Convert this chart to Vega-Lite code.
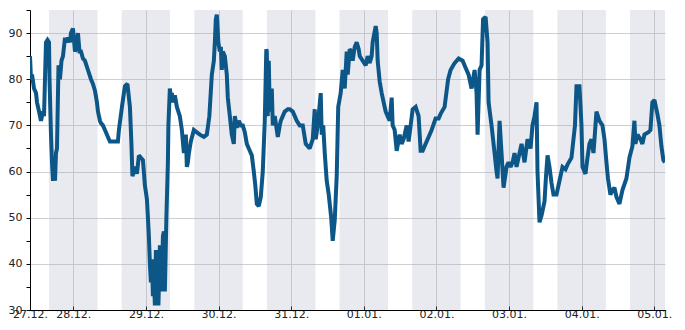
{
  "$schema": "https://vega.github.io/schema/vega-lite/v6.json",
  "width": 635,
  "height": 300,
  "autosize": {"type": "none"},
  "padding": {"left": 30, "top": 10, "right": 20, "bottom": 20},
  "background": "white",
  "config": {
    "view": {"stroke": null},
    "font": "DejaVu Sans",
    "axis": {"labelFont": "DejaVu Sans", "labelFontSize": 11, "labelColor": "#222", "domainColor": "#000", "tickColor": "#000", "gridColor": "#cfcfd2", "gridWidth": 1, "title": null}
  },
  "datasets": {
    "bands": [
      {"start": "2023-12-27T16:00", "end": "2023-12-28T08:00"},
      {"start": "2023-12-28T16:00", "end": "2023-12-29T08:00"},
      {"start": "2023-12-29T16:00", "end": "2023-12-30T08:00"},
      {"start": "2023-12-30T16:00", "end": "2023-12-31T08:00"},
      {"start": "2023-12-31T16:00", "end": "2024-01-01T08:00"},
      {"start": "2024-01-01T16:00", "end": "2024-01-02T08:00"},
      {"start": "2024-01-02T16:00", "end": "2024-01-03T08:00"},
      {"start": "2024-01-03T16:00", "end": "2024-01-04T08:00"},
      {"start": "2024-01-04T16:00", "end": "2024-01-05T08:00"}
    ],
    "series": [
      {"t": "2023-12-27T09:42", "v": 85},
      {"t": "2023-12-27T10:02", "v": 80},
      {"t": "2023-12-27T10:22", "v": 81},
      {"t": "2023-12-27T11:02", "v": 78},
      {"t": "2023-12-27T11:41", "v": 77},
      {"t": "2023-12-27T12:01", "v": 75},
      {"t": "2023-12-27T12:41", "v": 73},
      {"t": "2023-12-27T13:20", "v": 71},
      {"t": "2023-12-27T14:00", "v": 73},
      {"t": "2023-12-27T14:20", "v": 72},
      {"t": "2023-12-27T14:39", "v": 80},
      {"t": "2023-12-27T14:59", "v": 88},
      {"t": "2023-12-27T15:29", "v": 88.5},
      {"t": "2023-12-27T15:59", "v": 88},
      {"t": "2023-12-27T16:09", "v": 80},
      {"t": "2023-12-27T16:38", "v": 68},
      {"t": "2023-12-27T16:58", "v": 62},
      {"t": "2023-12-27T17:18", "v": 58},
      {"t": "2023-12-27T17:38", "v": 62},
      {"t": "2023-12-27T17:58", "v": 58},
      {"t": "2023-12-27T18:17", "v": 64},
      {"t": "2023-12-27T18:37", "v": 65},
      {"t": "2023-12-27T19:07", "v": 83},
      {"t": "2023-12-27T19:36", "v": 80},
      {"t": "2023-12-27T20:06", "v": 84},
      {"t": "2023-12-27T20:36", "v": 85},
      {"t": "2023-12-27T21:16", "v": 89},
      {"t": "2023-12-27T21:35", "v": 88},
      {"t": "2023-12-27T22:15", "v": 89},
      {"t": "2023-12-27T22:55", "v": 88},
      {"t": "2023-12-27T23:14", "v": 90},
      {"t": "2023-12-27T23:54", "v": 91},
      {"t": "2023-12-28T00:34", "v": 86},
      {"t": "2023-12-28T01:03", "v": 87},
      {"t": "2023-12-28T01:33", "v": 90},
      {"t": "2023-12-28T02:03", "v": 86},
      {"t": "2023-12-28T02:33", "v": 86},
      {"t": "2023-12-28T03:12", "v": 84.5},
      {"t": "2023-12-28T03:52", "v": 84},
      {"t": "2023-12-28T04:51", "v": 82},
      {"t": "2023-12-28T05:51", "v": 80},
      {"t": "2023-12-28T06:30", "v": 79},
      {"t": "2023-12-28T07:10", "v": 77.5},
      {"t": "2023-12-28T07:49", "v": 75},
      {"t": "2023-12-28T08:09", "v": 73},
      {"t": "2023-12-28T08:49", "v": 71},
      {"t": "2023-12-28T09:09", "v": 70.5},
      {"t": "2023-12-28T09:48", "v": 70},
      {"t": "2023-12-28T10:28", "v": 69},
      {"t": "2023-12-28T11:27", "v": 67.5},
      {"t": "2023-12-28T12:07", "v": 66.5},
      {"t": "2023-12-28T13:26", "v": 66.5},
      {"t": "2023-12-28T14:45", "v": 66.5},
      {"t": "2023-12-28T15:05", "v": 69},
      {"t": "2023-12-28T16:05", "v": 74},
      {"t": "2023-12-28T17:04", "v": 78.5},
      {"t": "2023-12-28T17:54", "v": 79},
      {"t": "2023-12-28T18:43", "v": 74},
      {"t": "2023-12-28T19:13", "v": 66},
      {"t": "2023-12-28T19:33", "v": 59},
      {"t": "2023-12-28T20:02", "v": 60},
      {"t": "2023-12-28T20:42", "v": 61},
      {"t": "2023-12-28T21:02", "v": 59.5},
      {"t": "2023-12-28T21:41", "v": 63.5},
      {"t": "2023-12-28T22:21", "v": 63},
      {"t": "2023-12-28T23:01", "v": 62.5},
      {"t": "2023-12-28T23:40", "v": 57},
      {"t": "2023-12-29T00:20", "v": 54},
      {"t": "2023-12-29T00:40", "v": 50},
      {"t": "2023-12-29T00:59", "v": 46},
      {"t": "2023-12-29T01:19", "v": 40},
      {"t": "2023-12-29T01:39", "v": 36},
      {"t": "2023-12-29T01:59", "v": 41},
      {"t": "2023-12-29T02:19", "v": 33},
      {"t": "2023-12-29T02:38", "v": 38},
      {"t": "2023-12-29T02:58", "v": 31},
      {"t": "2023-12-29T03:18", "v": 43},
      {"t": "2023-12-29T03:38", "v": 36},
      {"t": "2023-12-29T04:08", "v": 31},
      {"t": "2023-12-29T04:17", "v": 35},
      {"t": "2023-12-29T04:37", "v": 44},
      {"t": "2023-12-29T04:57", "v": 40},
      {"t": "2023-12-29T05:17", "v": 34},
      {"t": "2023-12-29T05:37", "v": 46},
      {"t": "2023-12-29T05:57", "v": 47},
      {"t": "2023-12-29T06:16", "v": 34},
      {"t": "2023-12-29T06:46", "v": 50},
      {"t": "2023-12-29T07:16", "v": 62},
      {"t": "2023-12-29T07:26", "v": 70},
      {"t": "2023-12-29T07:55", "v": 78},
      {"t": "2023-12-29T08:15", "v": 76},
      {"t": "2023-12-29T08:35", "v": 77},
      {"t": "2023-12-29T08:55", "v": 75},
      {"t": "2023-12-29T09:34", "v": 76.5},
      {"t": "2023-12-29T10:14", "v": 74},
      {"t": "2023-12-29T11:13", "v": 72},
      {"t": "2023-12-29T11:53", "v": 69},
      {"t": "2023-12-29T12:33", "v": 64},
      {"t": "2023-12-29T12:52", "v": 66},
      {"t": "2023-12-29T13:12", "v": 68},
      {"t": "2023-12-29T13:32", "v": 61},
      {"t": "2023-12-29T13:52", "v": 62},
      {"t": "2023-12-29T14:12", "v": 64},
      {"t": "2023-12-29T14:51", "v": 66.5},
      {"t": "2023-12-29T15:51", "v": 69},
      {"t": "2023-12-29T16:50", "v": 68.5},
      {"t": "2023-12-29T17:50", "v": 68},
      {"t": "2023-12-29T19:09", "v": 67.5},
      {"t": "2023-12-29T20:08", "v": 68},
      {"t": "2023-12-29T20:58", "v": 72},
      {"t": "2023-12-29T21:47", "v": 81},
      {"t": "2023-12-29T22:27", "v": 84},
      {"t": "2023-12-29T22:47", "v": 88},
      {"t": "2023-12-29T23:06", "v": 93},
      {"t": "2023-12-29T23:26", "v": 94},
      {"t": "2023-12-29T23:56", "v": 88},
      {"t": "2023-12-30T00:26", "v": 86},
      {"t": "2023-12-30T00:46", "v": 87},
      {"t": "2023-12-30T01:05", "v": 82},
      {"t": "2023-12-30T01:25", "v": 86},
      {"t": "2023-12-30T02:05", "v": 85},
      {"t": "2023-12-30T02:44", "v": 81},
      {"t": "2023-12-30T03:04", "v": 76},
      {"t": "2023-12-30T03:44", "v": 72},
      {"t": "2023-12-30T04:23", "v": 68},
      {"t": "2023-12-30T05:03", "v": 66},
      {"t": "2023-12-30T05:23", "v": 72},
      {"t": "2023-12-30T06:02", "v": 69.5},
      {"t": "2023-12-30T06:42", "v": 71},
      {"t": "2023-12-30T07:22", "v": 70},
      {"t": "2023-12-30T08:01", "v": 70},
      {"t": "2023-12-30T08:41", "v": 68.5},
      {"t": "2023-12-30T09:21", "v": 66},
      {"t": "2023-12-30T10:00", "v": 65},
      {"t": "2023-12-30T11:00", "v": 63.5},
      {"t": "2023-12-30T11:39", "v": 60},
      {"t": "2023-12-30T12:09", "v": 57},
      {"t": "2023-12-30T12:39", "v": 53},
      {"t": "2023-12-30T13:18", "v": 52.5},
      {"t": "2023-12-30T13:58", "v": 54.5},
      {"t": "2023-12-30T14:37", "v": 60},
      {"t": "2023-12-30T15:17", "v": 71},
      {"t": "2023-12-30T15:47", "v": 86.5},
      {"t": "2023-12-30T15:57", "v": 86},
      {"t": "2023-12-30T16:16", "v": 72},
      {"t": "2023-12-30T16:36", "v": 84},
      {"t": "2023-12-30T16:56", "v": 73},
      {"t": "2023-12-30T17:16", "v": 75},
      {"t": "2023-12-30T17:36", "v": 78},
      {"t": "2023-12-30T17:56", "v": 70},
      {"t": "2023-12-30T18:35", "v": 72},
      {"t": "2023-12-30T19:35", "v": 67.5},
      {"t": "2023-12-30T20:14", "v": 70},
      {"t": "2023-12-30T20:34", "v": 71},
      {"t": "2023-12-30T21:14", "v": 72},
      {"t": "2023-12-30T21:53", "v": 73},
      {"t": "2023-12-30T22:53", "v": 73.5},
      {"t": "2023-12-30T23:32", "v": 73.5},
      {"t": "2023-12-31T00:32", "v": 73},
      {"t": "2023-12-31T01:11", "v": 72},
      {"t": "2023-12-31T01:51", "v": 71},
      {"t": "2023-12-31T02:50", "v": 70},
      {"t": "2023-12-31T03:50", "v": 70},
      {"t": "2023-12-31T04:49", "v": 66},
      {"t": "2023-12-31T05:29", "v": 65.5},
      {"t": "2023-12-31T06:08", "v": 65},
      {"t": "2023-12-31T07:08", "v": 67},
      {"t": "2023-12-31T07:47", "v": 73.5},
      {"t": "2023-12-31T08:07", "v": 67},
      {"t": "2023-12-31T08:47", "v": 70},
      {"t": "2023-12-31T09:46", "v": 77},
      {"t": "2023-12-31T10:06", "v": 68},
      {"t": "2023-12-31T10:36", "v": 70},
      {"t": "2023-12-31T11:06", "v": 64},
      {"t": "2023-12-31T11:45", "v": 58},
      {"t": "2023-12-31T12:25", "v": 55},
      {"t": "2023-12-31T13:14", "v": 50},
      {"t": "2023-12-31T13:44", "v": 45},
      {"t": "2023-12-31T14:24", "v": 49.5},
      {"t": "2023-12-31T15:03", "v": 59},
      {"t": "2023-12-31T15:33", "v": 74},
      {"t": "2023-12-31T16:22", "v": 77},
      {"t": "2023-12-31T17:02", "v": 82},
      {"t": "2023-12-31T17:42", "v": 78},
      {"t": "2023-12-31T18:21", "v": 86},
      {"t": "2023-12-31T18:41", "v": 81},
      {"t": "2023-12-31T19:21", "v": 86.5},
      {"t": "2023-12-31T20:00", "v": 86},
      {"t": "2023-12-31T20:20", "v": 84},
      {"t": "2023-12-31T21:00", "v": 87},
      {"t": "2023-12-31T21:39", "v": 88},
      {"t": "2023-12-31T22:19", "v": 86.5},
      {"t": "2023-12-31T22:39", "v": 85},
      {"t": "2023-12-31T23:38", "v": 84},
      {"t": "2024-01-01T00:38", "v": 83},
      {"t": "2024-01-01T01:17", "v": 85},
      {"t": "2024-01-01T01:57", "v": 83.5},
      {"t": "2024-01-01T02:36", "v": 85},
      {"t": "2024-01-01T02:56", "v": 88},
      {"t": "2024-01-01T03:56", "v": 91.5},
      {"t": "2024-01-01T04:16", "v": 90},
      {"t": "2024-01-01T04:35", "v": 84},
      {"t": "2024-01-01T05:15", "v": 79.5},
      {"t": "2024-01-01T05:55", "v": 77},
      {"t": "2024-01-01T06:34", "v": 75},
      {"t": "2024-01-01T07:14", "v": 73},
      {"t": "2024-01-01T07:53", "v": 72},
      {"t": "2024-01-01T08:33", "v": 71},
      {"t": "2024-01-01T09:13", "v": 76},
      {"t": "2024-01-01T09:32", "v": 70},
      {"t": "2024-01-01T10:12", "v": 69},
      {"t": "2024-01-01T10:52", "v": 64.5},
      {"t": "2024-01-01T11:51", "v": 68},
      {"t": "2024-01-01T12:31", "v": 66},
      {"t": "2024-01-01T13:10", "v": 67},
      {"t": "2024-01-01T14:10", "v": 70},
      {"t": "2024-01-01T14:49", "v": 66.5},
      {"t": "2024-01-01T15:29", "v": 70},
      {"t": "2024-01-01T16:09", "v": 73.5},
      {"t": "2024-01-01T17:08", "v": 74},
      {"t": "2024-01-01T18:07", "v": 72},
      {"t": "2024-01-01T18:47", "v": 64.5},
      {"t": "2024-01-01T19:27", "v": 64.5},
      {"t": "2024-01-01T20:06", "v": 65.5},
      {"t": "2024-01-01T21:06", "v": 67},
      {"t": "2024-01-01T22:25", "v": 69},
      {"t": "2024-01-01T23:44", "v": 71.5},
      {"t": "2024-01-02T00:44", "v": 71.5},
      {"t": "2024-01-02T01:23", "v": 72.5},
      {"t": "2024-01-02T02:42", "v": 74},
      {"t": "2024-01-02T03:52", "v": 80},
      {"t": "2024-01-02T04:41", "v": 82},
      {"t": "2024-01-02T06:00", "v": 83.5},
      {"t": "2024-01-02T07:20", "v": 84.5},
      {"t": "2024-01-02T08:39", "v": 84},
      {"t": "2024-01-02T09:38", "v": 82.5},
      {"t": "2024-01-02T10:38", "v": 81},
      {"t": "2024-01-02T11:37", "v": 78},
      {"t": "2024-01-02T12:37", "v": 82},
      {"t": "2024-01-02T13:16", "v": 77},
      {"t": "2024-01-02T13:36", "v": 68},
      {"t": "2024-01-02T14:16", "v": 82},
      {"t": "2024-01-02T14:55", "v": 83},
      {"t": "2024-01-02T15:25", "v": 93},
      {"t": "2024-01-02T16:15", "v": 93.5},
      {"t": "2024-01-02T16:54", "v": 88},
      {"t": "2024-01-02T17:14", "v": 75},
      {"t": "2024-01-02T18:13", "v": 70},
      {"t": "2024-01-02T19:13", "v": 64},
      {"t": "2024-01-02T19:52", "v": 60},
      {"t": "2024-01-02T20:12", "v": 58.5},
      {"t": "2024-01-02T20:52", "v": 71},
      {"t": "2024-01-02T21:31", "v": 64},
      {"t": "2024-01-02T22:11", "v": 56.5},
      {"t": "2024-01-02T23:10", "v": 61},
      {"t": "2024-01-02T23:50", "v": 62},
      {"t": "2024-01-03T00:30", "v": 61},
      {"t": "2024-01-03T01:09", "v": 62},
      {"t": "2024-01-03T01:49", "v": 64},
      {"t": "2024-01-03T02:29", "v": 61},
      {"t": "2024-01-03T03:08", "v": 63},
      {"t": "2024-01-03T04:08", "v": 66},
      {"t": "2024-01-03T05:07", "v": 62},
      {"t": "2024-01-03T06:06", "v": 67},
      {"t": "2024-01-03T07:06", "v": 65},
      {"t": "2024-01-03T07:45", "v": 70},
      {"t": "2024-01-03T08:25", "v": 72},
      {"t": "2024-01-03T09:05", "v": 75},
      {"t": "2024-01-03T09:24", "v": 60},
      {"t": "2024-01-03T10:04", "v": 49},
      {"t": "2024-01-03T10:44", "v": 50.5},
      {"t": "2024-01-03T11:43", "v": 53.5},
      {"t": "2024-01-03T12:13", "v": 59},
      {"t": "2024-01-03T12:43", "v": 63.5},
      {"t": "2024-01-03T13:22", "v": 61},
      {"t": "2024-01-03T14:02", "v": 57.5},
      {"t": "2024-01-03T14:41", "v": 55},
      {"t": "2024-01-03T15:41", "v": 55},
      {"t": "2024-01-03T16:40", "v": 58},
      {"t": "2024-01-03T17:40", "v": 61},
      {"t": "2024-01-03T18:39", "v": 60.5},
      {"t": "2024-01-03T19:19", "v": 61.5},
      {"t": "2024-01-03T20:38", "v": 63},
      {"t": "2024-01-03T21:47", "v": 70},
      {"t": "2024-01-03T22:17", "v": 78.5},
      {"t": "2024-01-03T23:16", "v": 78.5},
      {"t": "2024-01-03T23:56", "v": 70},
      {"t": "2024-01-04T00:16", "v": 61},
      {"t": "2024-01-04T01:15", "v": 59.5},
      {"t": "2024-01-04T01:55", "v": 63},
      {"t": "2024-01-04T02:34", "v": 66},
      {"t": "2024-01-04T03:14", "v": 67},
      {"t": "2024-01-04T03:54", "v": 64},
      {"t": "2024-01-04T04:14", "v": 67},
      {"t": "2024-01-04T04:53", "v": 73},
      {"t": "2024-01-04T05:53", "v": 71},
      {"t": "2024-01-04T06:52", "v": 70},
      {"t": "2024-01-04T07:32", "v": 67},
      {"t": "2024-01-04T08:11", "v": 62},
      {"t": "2024-01-04T08:41", "v": 58.5},
      {"t": "2024-01-04T09:30", "v": 55},
      {"t": "2024-01-04T10:10", "v": 56},
      {"t": "2024-01-04T10:50", "v": 56.5},
      {"t": "2024-01-04T11:29", "v": 54.5},
      {"t": "2024-01-04T12:29", "v": 53},
      {"t": "2024-01-04T13:28", "v": 56},
      {"t": "2024-01-04T14:47", "v": 58.5},
      {"t": "2024-01-04T15:47", "v": 63},
      {"t": "2024-01-04T16:46", "v": 65.5},
      {"t": "2024-01-04T17:26", "v": 71},
      {"t": "2024-01-04T17:46", "v": 66},
      {"t": "2024-01-04T18:25", "v": 68},
      {"t": "2024-01-04T19:25", "v": 67},
      {"t": "2024-01-04T20:04", "v": 66},
      {"t": "2024-01-04T20:44", "v": 68},
      {"t": "2024-01-04T22:03", "v": 68.5},
      {"t": "2024-01-04T22:43", "v": 69},
      {"t": "2024-01-04T23:22", "v": 75},
      {"t": "2024-01-05T00:02", "v": 75.5},
      {"t": "2024-01-05T01:01", "v": 72.5},
      {"t": "2024-01-05T01:41", "v": 70},
      {"t": "2024-01-05T02:21", "v": 65.5},
      {"t": "2024-01-05T03:00", "v": 62.5},
      {"t": "2024-01-05T03:30", "v": 62}
    ]
  },
  "layer": [
    {
      "data": {"name": "bands"},
      "mark": {"type": "rect", "fill": "#a8acc0", "opacity": 0.25, "clip": true},
      "encoding": {
        "x": {"field": "start", "type": "temporal"},
        "x2": {"field": "end"}
      }
    },
    {
      "data": {"name": "series"},
      "mark": {"type": "line", "color": "#0c5788", "strokeWidth": 4, "clip": true, "strokeJoin": "miter", "strokeMiterLimit": 2},
      "encoding": {
        "x": {
          "field": "t", "type": "temporal",
          "scale": {"domain": [{"year": 2023, "month": 12, "date": 27, "hours": 9, "minutes": 42}, {"year": 2024, "month": 1, "date": 5, "hours": 3, "minutes": 32}], "nice": false},
          "axis": {
            "values": [
              {"year": 2023, "month": 12, "date": 27, "hours": 9, "minutes": 42},
              {"year": 2023, "month": 12, "date": 28},
              {"year": 2023, "month": 12, "date": 29},
              {"year": 2023, "month": 12, "date": 30},
              {"year": 2023, "month": 12, "date": 31},
              {"year": 2024, "month": 1, "date": 1},
              {"year": 2024, "month": 1, "date": 2},
              {"year": 2024, "month": 1, "date": 3},
              {"year": 2024, "month": 1, "date": 4},
              {"year": 2024, "month": 1, "date": 5}
            ],
            "format": "%d.%m.",
            "labelOverlap": false,
            "labelFlush": false,
            "tickSize": -4,
            "labelPadding": 2,
            "grid": true,
            "title": null
          }
        },
        "y": {
          "field": "v", "type": "quantitative",
          "scale": {"domain": [30, 95], "nice": false, "zero": false},
          "axis": {
            "values": [30, 35, 40, 45, 50, 55, 60, 65, 70, 75, 80, 85, 90, 95],
            "labelExpr": "datum.value % 10 === 0 ? datum.label : ''",
            "gridOpacity": {"condition": {"test": "datum.value % 10 === 0 && datum.value > 30", "value": 1}, "value": 0},
            "tickSize": 4,
            "labelPadding": 4,
            "grid": true,
            "title": null
          }
        }
      }
    }
  ]
}
